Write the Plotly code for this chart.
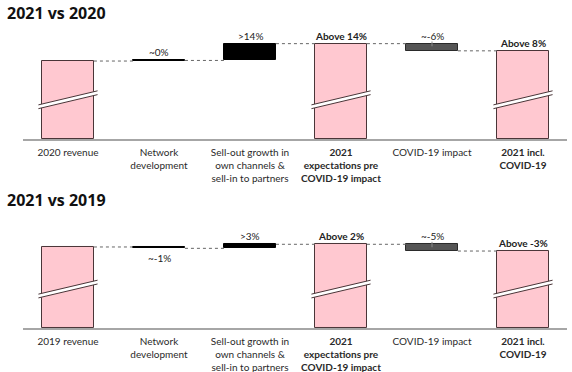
import plotly.graph_objects as go

# ---------------- data ----------------
categories_2020 = ["2020 revenue", "Network<br>development", "Sell-out growth in<br>own channels &<br>sell-in to partners",
                   "<b>2021<br>expectations pre<br>COVID-19 impact</b>", "COVID-19 impact", "<b>2021 incl.<br>COVID-19</b>"]
categories_2019 = ["2019 revenue", "Network<br>development", "Sell-out growth in<br>own channels &<br>sell-in to partners",
                   "<b>2021<br>expectations pre<br>COVID-19 impact</b>", "COVID-19 impact", "<b>2021 incl.<br>COVID-19</b>"]
# index, start = 100; deltas
start_2020 = 100
network_2020 = 0.5
sellout_2020 = 14
covid_2020 = -6
labels_2020 = ["", "~0%", ">14%", "<b>Above 14%</b>", "~-6%", "<b>Above 8%</b>"]

start_2019 = 100
network_2019 = -1
sellout_2019 = 3
covid_2019 = -5
labels_2019 = ["", "~-1%", ">3%", "<b>Above 2%</b>", "~-5%", "<b>Above -3%</b>"]

titles = ["2021 vs 2020", "2021 vs 2019"]

# ---------------- style ----------------
PINK = "#ffc8d0"
PINK_LINE = "#4a3538"
BLACK = "#000000"
GREY = "#555555"
W = 0.57
FONT = "Lato"

# axis settings (broken axis: bottom of range is truncated)
y_ranges = [[35, 134.2], [40, 127.4]]
y_domains = [[0.6263, 0.9462], [0.1183, 0.4355]]
title_y = [1 - 13 / 372, 1 - 200 / 372]
x_range = [-0.4945, 5.4835]
x_domain = [23 / 572, 567 / 572]

fig = go.Figure()
shapes = []
annotations = []


def add_panel(idx, cats, start, net, sell, cov, labels):
    xa = "x" if idx == 0 else "x2"
    ya = "y" if idx == 0 else "y2"
    floor = y_ranges[idx][0]
    lvl0 = start
    lvl1 = lvl0 + net
    lvl2 = lvl1 + sell
    lvl3 = lvl2 + cov
    xs = list(range(6))
    bases = [floor, min(lvl0, lvl1), min(lvl1, lvl2), floor, min(lvl2, lvl3), floor]
    vals = [lvl0 - floor, abs(net), abs(sell), lvl2 - floor, abs(cov), lvl3 - floor]
    colors = [PINK, BLACK, BLACK, PINK, GREY, PINK]
    lcolors = [PINK_LINE, BLACK, BLACK, PINK_LINE, "#2a2a2a", PINK_LINE]
    fig.add_trace(go.Bar(x=xs, y=vals, base=bases, width=W,
                         marker=dict(color=colors, line=dict(color=lcolors, width=1)),
                         xaxis=xa, yaxis=ya, showlegend=False, hoverinfo="skip"))
    # connectors
    levels = [lvl0, lvl1, lvl2, lvl2, lvl3]
    for i in range(5):
        shapes.append(dict(type="line", xref=xa, yref=ya, x0=i + W / 2, x1=i + 1 - W / 2,
                           y0=levels[i], y1=levels[i], line=dict(color="#666666", width=1, dash="dot")))
    # small tick on the COVID bar
    shapes.append(dict(type="line", xref=xa, yref=ya, x0=4, x1=4, y0=lvl2 + 1.8, y1=lvl2 - 2.2,
                       line=dict(color="#8a8a8a", width=1)))
    # break marks on the pink bars
    c, r, g, ext = 0.33, 0.118, 0.032, 0.04
    for i in (0, 3, 5):
        xl, xr = i - W / 2 - ext, i + W / 2 + ext
        yd = ya + " domain"
        shapes.append(dict(type="path", xref=xa, yref=yd,
                           path=f"M{xl},{c - r / 2 - g / 2} L{xr},{c + r / 2 - g / 2} L{xr},{c + r / 2 + g / 2} L{xl},{c - r / 2 + g / 2} Z",
                           fillcolor="white", line=dict(width=0)))
        for off in (-g / 2, g / 2):
            shapes.append(dict(type="line", xref=xa, yref=yd, x0=xl, x1=xr,
                               y0=c - r / 2 + off, y1=c + r / 2 + off,
                               line=dict(color=PINK_LINE, width=1)))
    # value labels
    tops = [lvl0, max(lvl0, lvl1), max(lvl1, lvl2), lvl2, max(lvl2, lvl3), lvl3]
    for i in range(1, 6):
        below = (i == 1 and net < 0)
        annotations.append(dict(x=i, y=(min(lvl0, lvl1) if below else tops[i]), xref=xa, yref=ya,
                                text=labels[i], showarrow=False,
                                yanchor="top" if below else "bottom", yshift=-2 if below else 0,
                                font=dict(family=FONT, size=10, color="#222222")))
    # title
    annotations.append(dict(x=5 / 572, y=title_y[idx], xref="paper", yref="paper",
                            text=f"<b>{titles[idx]}</b>", showarrow=False, xanchor="left", yanchor="middle",
                            font=dict(family="Open Sans", size=16, color="#111111")))
    axis_x = dict(domain=x_domain, range=x_range, tickmode="array", tickvals=xs, ticktext=cats,
                  showline=True, linecolor="#a6a6a6", linewidth=2, showgrid=False, zeroline=False,
                  ticks="outside", ticklen=3, tickcolor="rgba(0,0,0,0)",
                  tickfont=dict(family=FONT, size=10, color="#2a2a2a"), fixedrange=True,
                  anchor=ya)
    axis_y = dict(domain=y_domains[idx], range=y_ranges[idx], visible=False, fixedrange=True, anchor=xa)
    if idx == 0:
        fig.update_layout(xaxis=axis_x, yaxis=axis_y)
    else:
        fig.update_layout(xaxis2=axis_x, yaxis2=axis_y)


add_panel(0, categories_2020, start_2020, network_2020, sellout_2020, covid_2020, labels_2020)
add_panel(1, categories_2019, start_2019, network_2019, sellout_2019, covid_2019, labels_2019)

fig.update_layout(width=572, height=372, margin=dict(l=0, r=0, t=0, b=0),
                  paper_bgcolor="white", plot_bgcolor="white",
                  shapes=shapes, annotations=annotations, bargap=0)

fig.write_html("out.html", config={"displayModeBar": False},
               post_script="document.body.style.margin='0';document.body.style.overflow='hidden';")
